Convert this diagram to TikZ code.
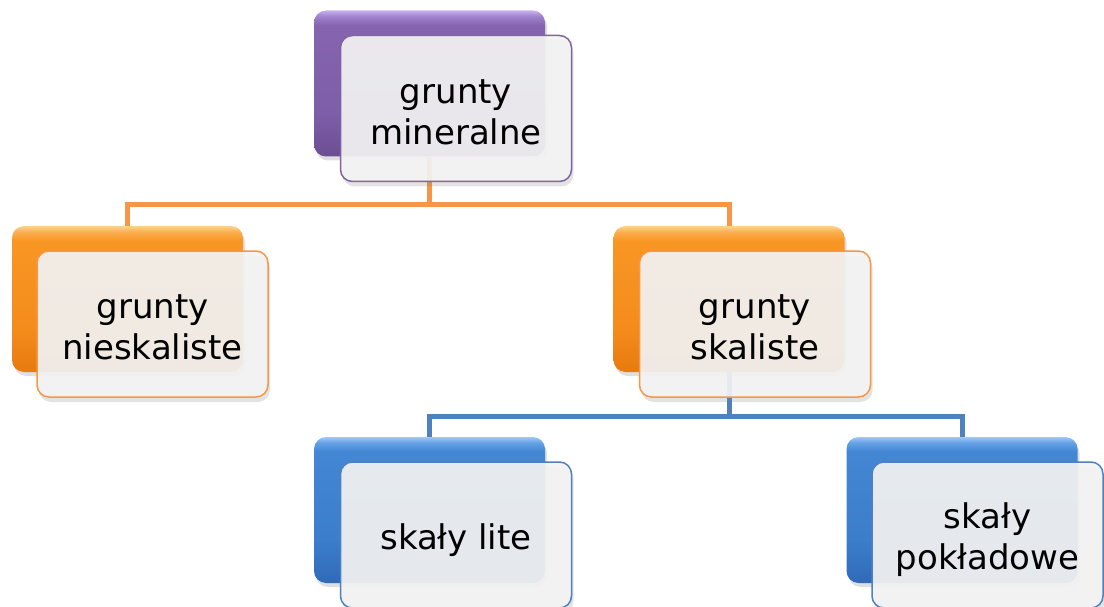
\documentclass[tikz,border=0pt]{standalone}
\usepackage{fontspec}
\setmainfont{DejaVu Sans}
\usetikzlibrary{shadows}

\definecolor{purpLine}{HTML}{8064A2}
\definecolor{orLine}{HTML}{F79646}
\definecolor{blLine}{HTML}{4F81BD}
\definecolor{cardFill}{HTML}{F3F3F3}

% glossy vertical fills for the back cards (path box maps to 25bp..75bp)
\pgfdeclareverticalshading{purpgloss}{100bp}{%
  color(0bp)=(rgb,255:red,108;green,78;blue,148);
  color(25bp)=(rgb,255:red,108;green,78;blue,148);
  color(40bp)=(rgb,255:red,126;green,94;blue,168);
  color(70bp)=(rgb,255:red,134;green,100;blue,176);
  color(73bp)=(rgb,255:red,160;green,130;blue,205);
  color(75bp)=(rgb,255:red,200;green,175;blue,238);
  color(100bp)=(rgb,255:red,200;green,175;blue,238)}
\pgfdeclareverticalshading{orgloss}{100bp}{%
  color(0bp)=(rgb,255:red,232;green,122;blue,14);
  color(25bp)=(rgb,255:red,232;green,122;blue,14);
  color(40bp)=(rgb,255:red,244;green,140;blue,28);
  color(70bp)=(rgb,255:red,248;green,150;blue,36);
  color(73bp)=(rgb,255:red,251;green,175;blue,80);
  color(75bp)=(rgb,255:red,255;green,210;blue,140);
  color(100bp)=(rgb,255:red,255;green,210;blue,140)}
\pgfdeclareverticalshading{blgloss}{100bp}{%
  color(0bp)=(rgb,255:red,48;green,106;blue,184);
  color(25bp)=(rgb,255:red,48;green,106;blue,184);
  color(40bp)=(rgb,255:red,60;green,126;blue,204);
  color(70bp)=(rgb,255:red,66;green,134;blue,212);
  color(73bp)=(rgb,255:red,100;green,160;blue,230);
  color(75bp)=(rgb,255:red,160;green,200;blue,245);
  color(100bp)=(rgb,255:red,160;green,200;blue,245)}

\tikzset{
  backcard/.style={rectangle, rounded corners=12pt,
    minimum width=231pt, minimum height=146pt, inner sep=0pt,
    shading=#1,
    drop shadow={opacity=0.25, shadow xshift=2pt, shadow yshift=-4pt}},
  frontcard/.style={rectangle, rounded corners=12pt,
    minimum width=231pt, minimum height=146pt, inner sep=0pt,
    draw=#1, line width=1.5pt, fill=cardFill, fill opacity=0.92,
    drop shadow={opacity=0.22, shadow xshift=2pt, shadow yshift=-5pt}},
  cardtext/.style={align=center, font=\fontsize{34}{41}\selectfont,
    text=black, inner sep=0pt},
  oconn/.style={draw=orLine, line width=5pt},
  bconn/.style={draw=blLine, line width=5pt},
}

\begin{document}
\begin{tikzpicture}[x=1pt, y=-1pt]
\useasboundingbox (0,0) rectangle (1104,607);

% back cards
\node[backcard=purpgloss] (pb) at (429.5,83.5) {};
\node[backcard=orgloss] (olb) at (127.5,299) {};
\node[backcard=orgloss] (orb) at (729,299) {};
\node[backcard=blgloss] (blb) at (429.5,510) {};
\node[backcard=blgloss] (brb) at (962,510) {};

% connectors
\draw[oconn] (pb.south) -- ++(0,48) coordinate (ojoin) -| (olb.north);
\draw[oconn] (ojoin) -| (orb.north);
\draw[bconn] (orb.south) -- ++(0,44.5) coordinate (bjoin) -| (blb.north);
\draw[bconn] (bjoin) -| (brb.north);

% front cards
\node[frontcard=purpLine] (pf) at (456,108.5) {};
\node[frontcard=orLine] (olf) at (152.5,324) {};
\node[frontcard=orLine] (orf) at (755,324) {};
\node[frontcard=blLine] (blf) at (456,535) {};
\node[frontcard=blLine] (brf) at (987.5,535) {};

% labels
\node[cardtext] (pt) at ([yshift=-4pt]pf.center) {grunty\\mineralne};
\node[cardtext] (olt) at ([yshift=-3pt]olf.center) {grunty\\nieskaliste};
\node[cardtext] (ort) at ([yshift=-3pt]orf.center) {grunty\\skaliste};
\node[cardtext] (blt) at ([yshift=-5pt]blf.center) {skały lite};
\node[cardtext] (brt) at ([yshift=-5pt]brf.center) {skały\\pokładowe};
\end{tikzpicture}
\end{document}
